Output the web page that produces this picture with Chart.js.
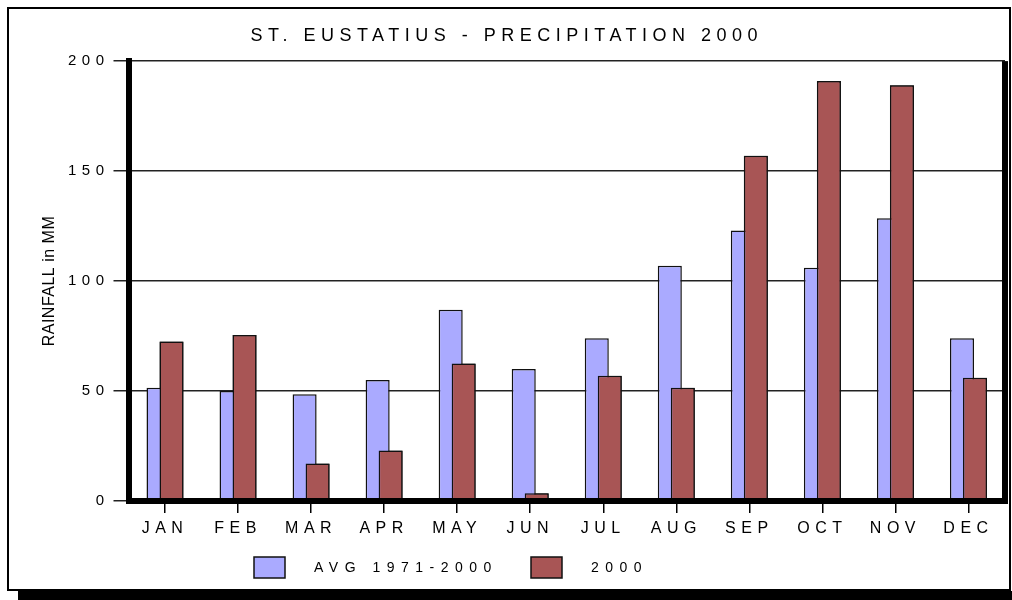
<!DOCTYPE html>
<html>
<head>
<meta charset="utf-8">
<script src="https://cdn.jsdelivr.net/npm/chart.js@4/dist/chart.umd.min.js"></script>
<style>
  body { margin: 0; background: #fff; }
  #wrap { width: 1012px; height: 600px; }
</style>
</head>
<body>
<div id="wrap"><canvas id="rainChart" width="1012" height="600"></canvas></div>
<script>
var months = ["JAN", "FEB", "MAR", "APR", "MAY", "JUN", "JUL", "AUG", "SEP", "OCT", "NOV", "DEC"];
var avg7100 = [51.5, 50, 48.5, 55, 87, 60, 74, 107, 123, 106, 128.5, 74];
var rain2000 = [72.5, 75.5, 17, 23, 62.5, 3.5, 57, 51.5, 157, 191, 189, 56];
var yTicks = [0, 50, 100, 150, 200];

var FONT = "'Liberation Sans', Arial, sans-serif";

// white page, outer frame with drop shadow, wide letter spacing
var framePlugin = {
  id: "frame",
  beforeLayout: function (chart) {
    chart.ctx.letterSpacing = "5.5px";
  },
  beforeDraw: function (chart) {
    var ctx = chart.ctx;
    ctx.save();
    ctx.fillStyle = "#fff";
    ctx.fillRect(0, 0, chart.width, chart.height);
    ctx.fillStyle = "#000";
    ctx.fillRect(18, 591, chart.width - 18, 9);
    ctx.strokeStyle = "#000";
    ctx.lineWidth = 2;
    ctx.strokeRect(8, 8, 1002, 582);
    ctx.restore();
    ctx.letterSpacing = "5.5px";
  },
  // 2000 bars sit in front of the average bars
  afterDatasetsDraw: function (chart) {
    chart.getDatasetMeta(1).controller.draw();
  },
  afterDraw: function (chart) {
    var ctx = chart.ctx;
    var a = chart.chartArea;
    ctx.save();
    // thick right border of plot
    ctx.fillStyle = "#000";
    ctx.fillRect(a.right - 3, a.top, 6, a.bottom - a.top + 3);

    // y axis title
    ctx.letterSpacing = "0.5px";
    ctx.translate(50, (a.top + a.bottom) / 2);
    ctx.rotate(-Math.PI / 2);
    ctx.font = "16px " + FONT;
    ctx.fillStyle = "#000";
    ctx.textAlign = "center";
    ctx.textBaseline = "middle";
    ctx.fillText("RAINFALL in MM", 0, 0);
    ctx.restore();

    // legend
    ctx.save();
    ctx.letterSpacing = "6.5px";
    ctx.font = "14px " + FONT;
    ctx.textBaseline = "middle";
    var xs = [254, 531];
    chart.data.datasets.forEach(function (ds, i) {
      ctx.fillStyle = ds.backgroundColor;
      ctx.fillRect(xs[i], 557, 31, 21);
      ctx.strokeStyle = "#111";
      ctx.lineWidth = 1.5;
      ctx.strokeRect(xs[i], 557, 31, 21);
      ctx.fillStyle = "#000";
      ctx.fillText(ds.label, xs[i] + 60, 568);
    });
    ctx.restore();
  },
};

var ctx = document.getElementById("rainChart").getContext("2d");
var myChart = new Chart(ctx, {
  type: "bar",
  data: {
    labels: months,
    datasets: [
      {
        label: "AVG 1971-2000",
        data: avg7100,
        backgroundColor: "#AAAAFF",
        borderColor: "#111",
        borderWidth: 1.5,
      },
      {
        label: "2000",
        data: rain2000,
        backgroundColor: "#A85555",
        borderColor: "#111",
        borderWidth: 1.5,
      },
    ],
  },
  options: {
    responsive: false,
    animation: false,
    categoryPercentage: 0.356,
    barPercentage: 1.85,
    layout: {
      padding: { left: 8.5, right: 7, top: 0, bottom: 49 },
    },
    plugins: {
      legend: { display: false },
      tooltip: { enabled: false },
      title: {
        display: true,
        text: "ST. EUSTATIUS - PRECIPITATION 2000",
        color: "#000",
        font: { family: FONT, size: 18, weight: "normal" },
        padding: { top: 25.5, bottom: 14 },
      },
    },
    scales: {
      x: {
        grid: {
          display: true,
          drawOnChartArea: false,
          offset: false,
          tickLength: 12,
          color: "#000",
          lineWidth: 1.5,
        },
        border: { display: true, width: 6, color: "#000", z: 1 },
        ticks: {
          color: "#000",
          padding: 5.5,
          maxRotation: 0,
          font: { family: FONT, size: 16 },
        },
        afterFit: function (s) {
          s.height = 50;
        },
      },
      y: {
        min: 0,
        max: 200,
        afterBuildTicks: function (s) {
          s.ticks = yTicks.map(function (v) {
            return { value: v };
          });
        },
        grid: {
          color: "#222",
          lineWidth: 1.5,
          tickLength: 15,
        },
        border: { display: true, width: 6, color: "#000", z: 1 },
        ticks: {
          color: "#000",
          padding: 4,
          font: { family: FONT, size: 15 },
        },
        afterFit: function (s) {
          s.width = 120;
        },
      },
    },
  },
  plugins: [framePlugin],
});
</script>
</body>
</html>
